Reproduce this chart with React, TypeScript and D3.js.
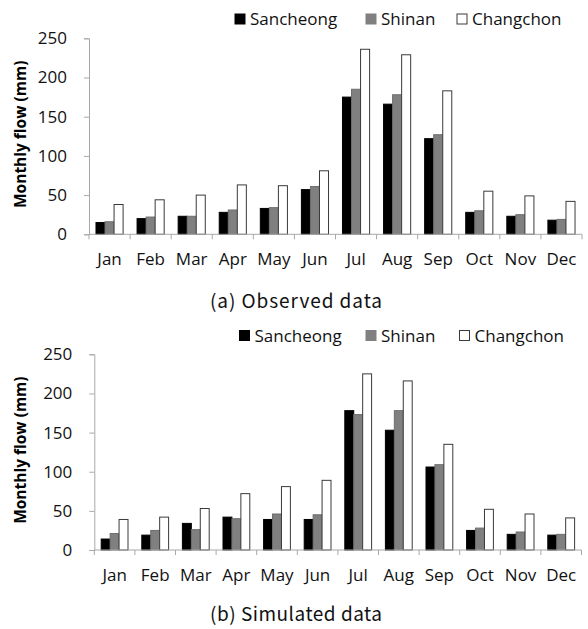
import React, { useEffect, useRef } from "react";
import * as d3 from "d3";

const months = ["Jan", "Feb", "Mar", "Apr", "May", "Jun", "Jul", "Aug", "Sep", "Oct", "Nov", "Dec"];
const stations = ["Sancheong", "Shinan", "Changchon"];
const yTicks = [0, 50, 100, 150, 200, 250];

// (a) observed
const obsSancheong = [15, 20, 23, 28, 33, 57, 175, 166, 122, 28, 23, 18];
const obsShinan = [16, 22, 23, 31, 34, 61, 185, 178, 127, 30, 25, 19];
const obsChangchon = [38, 44, 50, 63, 62, 81, 236, 229, 183, 55, 49, 42];

// (b) simulated
const simSancheong = [14, 19, 34, 42, 39, 39, 178, 153, 106, 25, 20, 19];
const simShinan = [21, 25, 26, 40, 46, 45, 173, 178, 109, 28, 23, 20];
const simChangchon = [39, 42, 53, 72, 81, 89, 225, 216, 135, 52, 46, 41];

const fills = ["#000000", "#808080", "#ffffff"];
const strokes = ["#000000", "#6e6e6e", "#3a3a3a"];
const font = "'Open Sans', sans-serif";

type PanelProps = {
  series: number[][];
  left: number;
  right: number;
  top: number;
  bottom: number;
  legendY: number;
  legendX: number[];
  caption: string;
  captionY: number;
};

const Panel = ({ series, left, right, top, bottom, legendY, legendX, caption, captionY }: PanelProps) => {
  const ref = useRef<SVGGElement>(null);

  useEffect(() => {
    const g = d3.select(ref.current);
    g.selectAll("*").remove();

    const x0 = d3.scaleBand().domain(months).range([left, right]).padding(0);
    const bw = x0.bandwidth();
    const x1 = d3.scaleBand().domain(stations).range([bw * 0.17, bw * 0.83]).padding(0);
    const y = d3.scaleLinear().domain([0, 250]).range([bottom, top]);

    // bars
    stations.forEach((s, si) => {
      g.append("g")
        .selectAll("rect")
        .data(series[si])
        .join("rect")
        .attr("x", (d, i) => x0(months[i])! + x1(s)!)
        .attr("y", (d) => y(d))
        .attr("width", x1.bandwidth())
        .attr("height", (d) => y(0) - y(d))
        .attr("fill", fills[si])
        .attr("stroke", strokes[si])
        .attr("stroke-width", 1);
    });

    // y axis
    const yAxis = d3.axisLeft(y).tickValues(yTicks).tickSize(5).tickPadding(17);
    const ya = g.append("g").attr("transform", `translate(${left},0)`).call(yAxis);
    ya.select(".domain").attr("stroke", "#a8a8a8");
    ya.selectAll(".tick line").attr("stroke", "#a8a8a8");
    ya.selectAll(".tick text")
      .attr("font-family", font)
      .attr("font-size", 17)
      .attr("fill", "#111");

    // x axis: ticks at category boundaries
    const xa = g.append("g");
    xa.append("line")
      .attr("x1", left)
      .attr("x2", right)
      .attr("y1", y(0))
      .attr("y2", y(0))
      .attr("stroke", "#a8a8a8");
    xa.selectAll("line.tk")
      .data(months.concat(["end"]))
      .join("line")
      .attr("class", "tk")
      .attr("x1", (d, i) => left + i * bw)
      .attr("x2", (d, i) => left + i * bw)
      .attr("y1", y(0))
      .attr("y2", y(0) + 5)
      .attr("stroke", "#a8a8a8");
    xa.selectAll("text")
      .data(months)
      .join("text")
      .attr("x", (d) => x0(d)! + bw / 2)
      .attr("y", y(0) + 31)
      .attr("text-anchor", "middle")
      .attr("font-family", font)
      .attr("font-size", 17)
      .attr("fill", "#111")
      .text((d) => d);

    // y title
    g.append("text")
      .attr("transform", `translate(26,${(top + bottom) / 2 - 2}) rotate(-90)`)
      .attr("text-anchor", "middle")
      .attr("font-family", font)
      .attr("font-weight", "bold")
      .attr("font-size", 15.5)
      .attr("fill", "#000")
      .text("Monthly flow (mm)");

    // legend
    const lg = g.append("g");
    stations.forEach((s, si) => {
      lg.append("rect")
        .attr("x", legendX[si])
        .attr("y", legendY - 5)
        .attr("width", 10)
        .attr("height", 10)
        .attr("fill", fills[si])
        .attr("stroke", si === 2 ? "#3a3a3a" : fills[si]);
      lg.append("text")
        .attr("x", legendX[si] + 15)
        .attr("y", legendY + 6)
        .attr("font-family", font)
        .attr("font-size", 17)
        .attr("fill", "#111")
        .text(s);
    });

    // caption
    g.append("text")
      .attr("x", 210)
      .attr("y", captionY)
      .attr("font-family", "'Noto Sans CJK KR', sans-serif")
      .attr("font-size", 19)
      .attr("fill", "#111")
      .attr("textLength", 172)
      .attr("lengthAdjust", "spacing")
      .style("white-space", "pre")
      .text(caption);
  }, []);

  return <g ref={ref}></g>;
};

const App = () => {
  return (
    <div style={{ position: "absolute", left: 0, top: 0 }}>
      <svg width={588} height={629} style={{ display: "block", background: "#fff" }}>
        <Panel
          series={[obsSancheong, obsShinan, obsChangchon]}
          left={89}
          right={582}
          top={38.3}
          bottom={234.3}
          legendY={19}
          legendX={[235, 366, 457]}
          caption="(a) Observed data"
          captionY={308}
        />
        <Panel
          series={[simSancheong, simShinan, simChangchon]}
          left={94.3}
          right={581.5}
          top={354.3}
          bottom={550}
          legendY={335.5}
          legendX={[239.5, 366, 459.5]}
          caption="(b) Simulated data"
          captionY={621}
        />
      </svg>
    </div>
  );
};

export default App;
